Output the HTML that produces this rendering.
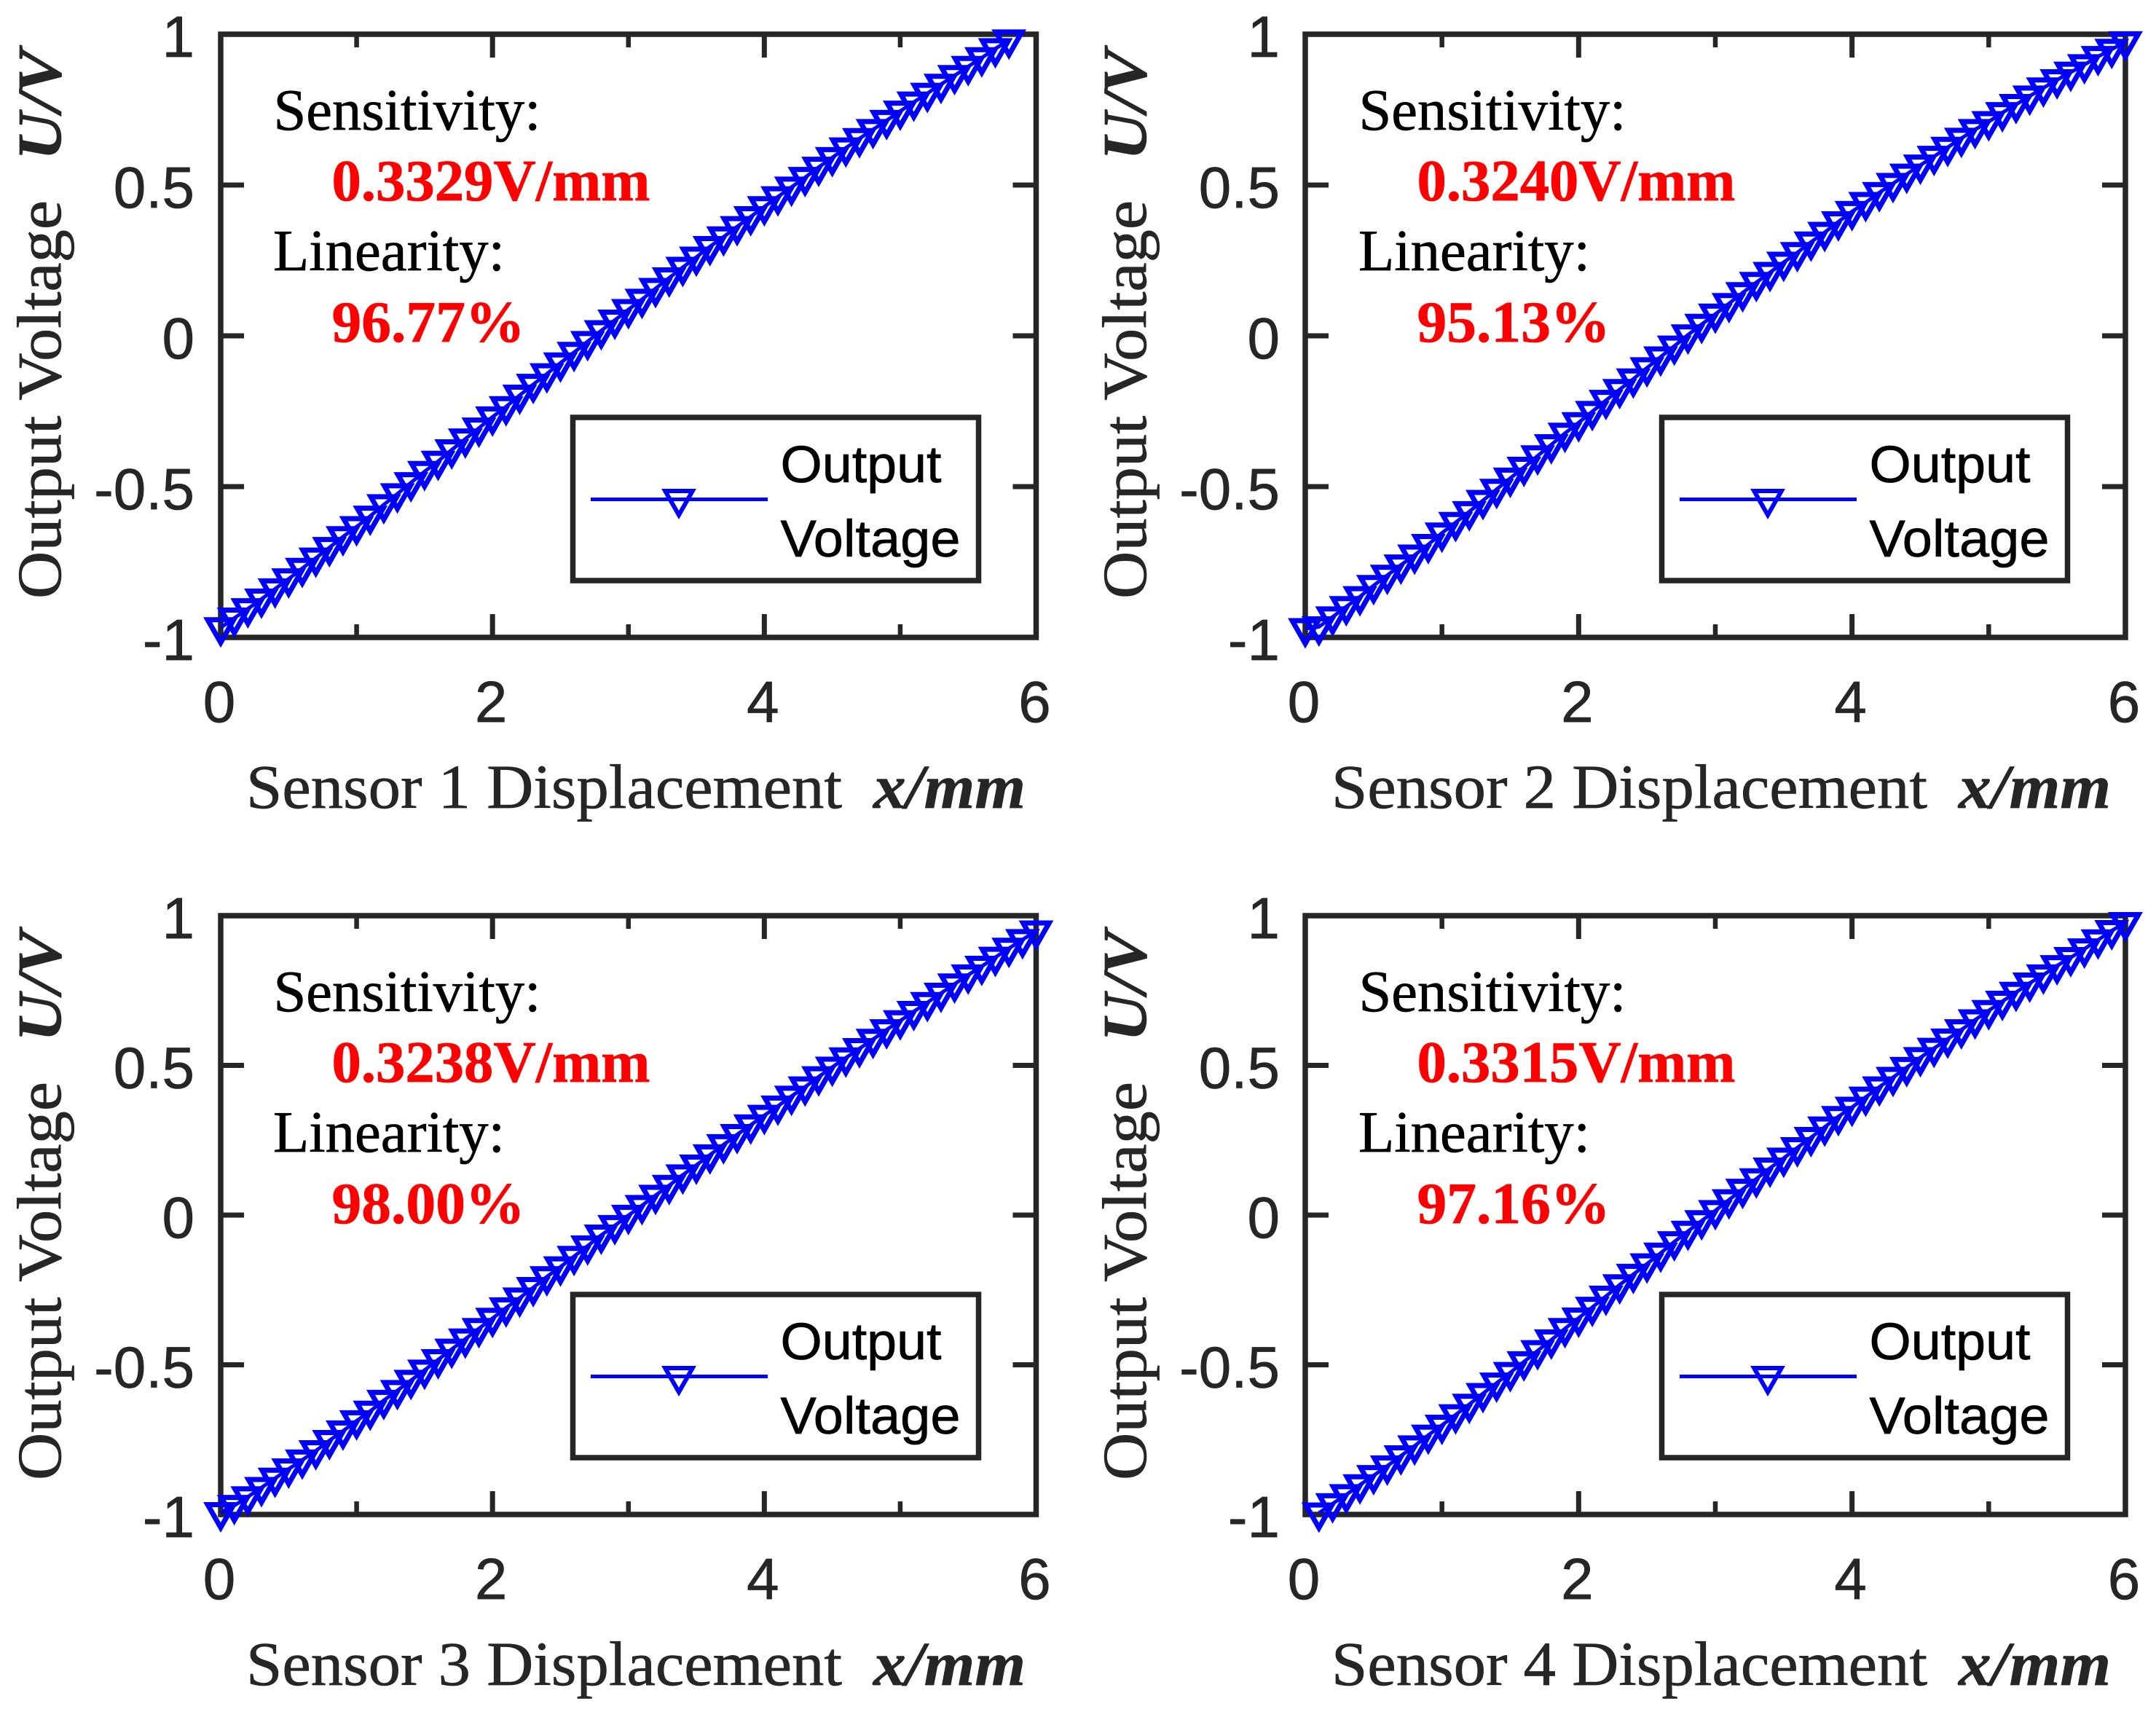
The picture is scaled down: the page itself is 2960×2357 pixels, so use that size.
<!DOCTYPE html>
<html lang="en">
<head>
<meta charset="utf-8">
<title>Sensor output voltage vs displacement</title>
<style>
html,body{margin:0;padding:0;background:#fff;}
svg{display:block;}
.ser{font-family:"Liberation Serif",serif;}
.san{font-family:"Liberation Sans",sans-serif;}
</style>
</head>
<body>
<svg id="chart" xmlns="http://www.w3.org/2000/svg" width="2960" height="2357" viewBox="0 0 2960 2357">
<rect x="0" y="0" width="2960" height="2357" fill="#ffffff"/>
</svg>
<script>
// ---- data ----
const displacement = [0,0.1,0.2,0.3,0.4,0.5,0.6,0.7,0.8,0.9,1,1.1,1.2,1.3,1.4,1.5,1.6,1.7,1.8,1.9,2,2.1,2.2,2.3,2.4,2.5,2.6,2.7,2.8,2.9,3,3.1,3.2,3.3,3.4,3.5,3.6,3.7,3.8,3.9,4,4.1,4.2,4.3,4.4,4.5,4.6,4.7,4.8,4.9,5,5.1,5.2,5.3,5.4,5.5,5.6,5.7,5.8,5.9,6];
const sensor1Voltage = [-0.968,-0.936,-0.905,-0.873,-0.839,-0.806,-0.771,-0.737,-0.702,-0.666,-0.633,-0.598,-0.560,-0.524,-0.487,-0.450,-0.416,-0.378,-0.342,-0.306,-0.269,-0.235,-0.197,-0.161,-0.126,-0.090,-0.055,-0.019,0.017,0.052,0.087,0.121,0.157,0.192,0.227,0.261,0.296,0.328,0.362,0.395,0.428,0.461,0.493,0.525,0.559,0.591,0.623,0.654,0.684,0.714,0.745,0.775,0.804,0.834,0.863,0.893,0.922,0.952,0.981];
const sensor2Voltage = [-0.971,-0.965,-0.932,-0.898,-0.865,-0.828,-0.794,-0.760,-0.727,-0.692,-0.654,-0.619,-0.583,-0.546,-0.509,-0.472,-0.436,-0.398,-0.361,-0.323,-0.288,-0.251,-0.214,-0.178,-0.143,-0.106,-0.070,-0.034,0.003,0.038,0.072,0.107,0.143,0.177,0.210,0.244,0.276,0.311,0.343,0.378,0.412,0.442,0.475,0.505,0.536,0.566,0.595,0.625,0.655,0.684,0.710,0.740,0.767,0.795,0.822,0.849,0.874,0.899,0.926,0.950,0.975];
const sensor3Voltage = [-0.994,-0.970,-0.941,-0.910,-0.879,-0.848,-0.818,-0.787,-0.753,-0.721,-0.687,-0.655,-0.619,-0.586,-0.552,-0.518,-0.483,-0.448,-0.414,-0.379,-0.345,-0.310,-0.277,-0.242,-0.206,-0.173,-0.138,-0.103,-0.067,-0.035,-0.001,0.032,0.066,0.099,0.134,0.167,0.201,0.235,0.269,0.301,0.333,0.364,0.397,0.428,0.462,0.494,0.525,0.556,0.587,0.619,0.649,0.680,0.710,0.741,0.772,0.802,0.831,0.861,0.891,0.920,0.949];
const sensor4Voltage = [-0.995,-0.964,-0.934,-0.901,-0.870,-0.838,-0.804,-0.771,-0.735,-0.702,-0.667,-0.632,-0.596,-0.561,-0.526,-0.490,-0.453,-0.417,-0.379,-0.344,-0.308,-0.271,-0.233,-0.198,-0.163,-0.127,-0.089,-0.054,-0.019,0.015,0.051,0.086,0.121,0.157,0.190,0.225,0.259,0.294,0.329,0.360,0.394,0.428,0.460,0.493,0.526,0.557,0.588,0.619,0.652,0.683,0.714,0.744,0.775,0.802,0.833,0.860,0.889,0.919,0.950,0.977];
const sensor1Start = 0;
const sensor2Start = 0;
const sensor3Start = 0;
const sensor4Start = 1;
const xMajorTicks = [0,2,4,6];
const xMinorTicks = [1,3,5];
const xTickLabels = ["0","2","4","6"];
const yMajorTicks = [-1,-0.5,0,0.5,1];
const yTickLabels = ["-1","-0.5","0","0.5","1"];
const sensorNumbers = ["1","2","3","4"];
const sensitivityValues = ["0.3329V/mm","0.3240V/mm","0.3238V/mm","0.3315V/mm"];
const linearityValues = ["96.77%","95.13%","98.00%","97.16%"];

// ---- layout ----
const voltageSeries = [sensor1Voltage,sensor2Voltage,sensor3Voltage,sensor4Voltage];
const seriesStarts = [sensor1Start,sensor2Start,sensor3Start,sensor4Start];
const frames = [
  {l:303,r:1422.5,t:47,b:875,tx:0,ty:0,lx:0,ly:0},
  {l:1792,r:2918,t:47,b:875,tx:1490,ty:0,lx:1495,ly:0},
  {l:303,r:1422.5,t:1257,b:2079,tx:0,ty:1210,lx:0,ly:1204},
  {l:1792,r:2918,t:1257,b:2079,tx:1490,ty:1210,lx:1495,ly:1204}
];
const INK = '#262626';
const BLUE = '#0000ff';
const svg = document.getElementById('chart');
const NS = 'http://www.w3.org/2000/svg';

function mk(tag, parent, attrs){
  const e = document.createElementNS(NS, tag);
  for (const k in attrs) e.setAttribute(k, attrs[k]);
  parent.appendChild(e);
  return e;
}
function txt(parent, str, cls, x, y, size, fill, opts){
  const o = opts || {};
  const a = {class:cls, x:x, y:y, 'font-size':size, fill:fill, stroke:fill, 'stroke-width':0.7};
  if (o.anchor) a['text-anchor'] = o.anchor;
  if (o.weight) a['font-weight'] = o.weight;
  if (o.style) a['font-style'] = o.style;
  if (o.len) { a.textLength = o.len; a.lengthAdjust = 'spacingAndGlyphs'; }
  if (o.transform) a.transform = o.transform;
  const e = mk('text', parent, a);
  e.textContent = str;
  return e;
}
function seriesMarkerPoints(cx, cy){
  return (cx-17.9)+','+(cy-11)+' '+(cx+17.9)+','+(cy-11)+' '+cx+','+(cy+20.4);
}
function legendMarkerPoints(cx, cy){
  return (cx-18.8)+','+(cy-11.5)+' '+(cx+18.8)+','+(cy-11.5)+' '+cx+','+(cy+21.5);
}

frames.forEach(function(f, p){
  const xScale = function(v){ return f.l + (v/6)*(f.r-f.l); };
  const yScale = function(v){ return f.b - ((v+1)/2)*(f.b-f.t); };

  const g = mk('g', svg, {});
  
  

  // plot frame
  const frame = mk('rect', g, {x:f.l, y:f.t, width:f.r-f.l, height:f.b-f.t, fill:'#ffffff', stroke:INK, 'stroke-width':7.5});
  
  

  // x ticks
  xMajorTicks.forEach(function(v, i){
    const x = xScale(v);
    const t1 = mk('line', g, {x1:x, x2:x, y1:f.b, y2:f.b-32, stroke:INK, 'stroke-width':7});
    
    
    const t2 = mk('line', g, {x1:x, x2:x, y1:f.t, y2:f.t+32, stroke:INK, 'stroke-width':7});
    
    
    const lb = txt(g, xTickLabels[i], 'san', x-2, f.b+116, 80, INK, {anchor:'middle'});
    
    
  });
  xMinorTicks.forEach(function(v){
    const x = xScale(v);
    const t1 = mk('line', g, {x1:x, x2:x, y1:f.b, y2:f.b-18, stroke:INK, 'stroke-width':6.5});
    
    
    const t2 = mk('line', g, {x1:x, x2:x, y1:f.t, y2:f.t+18, stroke:INK, 'stroke-width':6.5});
    
    
  });

  // y ticks
  yMajorTicks.forEach(function(v, i){
    const y = yScale(v);
    const t1 = mk('line', g, {x1:f.l, x2:f.l+32, y1:y, y2:y, stroke:INK, 'stroke-width':7});
    
    
    const t2 = mk('line', g, {x1:f.r, x2:f.r-32, y1:y, y2:y, stroke:INK, 'stroke-width':7});
    
    
    const lb = txt(g, yTickLabels[i], 'san', 267+f.tx, y+31, 80, INK, {anchor:'end'});
    
    
  });

  // axis titles
  const xt = txt(g, 'Sensor '+sensorNumbers[p]+' Displacement', 'ser', 338+f.tx, 1109+f.ty-(p>1?6:0), 86, INK, {len:818});
  
  
  const xu = txt(g, 'x/mm', 'ser', 1199+f.tx, 1109+f.ty-(p>1?6:0), 86, INK, {weight:'bold', style:'italic', len:209});
  
  

  const yb = 83 + f.tx;
  const yStart = 822 + f.ty;
  const yt = txt(g, 'Output Voltage', 'ser', yb, yStart, 86, INK, {len:547, transform:'rotate(-90 '+yb+' '+yStart+')'});
  
  
  const uStart = 220 + f.ty;
  const yu = txt(g, 'U/V', 'ser', yb, uStart, 86, INK, {weight:'bold', style:'italic', len:152, transform:'rotate(-90 '+yb+' '+uStart+')'});
  
  

  // annotations
  const a1 = txt(g, 'Sensitivity:', 'ser', 375.5+f.tx, 178+f.ty, 80, '#000000', {len:367});
  
  
  const a2 = txt(g, sensitivityValues[p], 'ser', 455.5+f.tx, 275+f.ty, 80, '#ff0000', {weight:'bold', len:437});
  
  
  const a3 = txt(g, 'Linearity:', 'ser', 375+f.tx, 371+f.ty, 80, '#000000', {len:318});
  
  
  const a4 = txt(g, linearityValues[p], 'ser', 455.5+f.tx, 469+f.ty, 80, '#ff0000', {weight:'bold', len:265});
  
  

  // series
  const values = voltageSeries[p];
  const start = seriesStarts[p];
  const pts = values.map(function(v, i){ return xScale(displacement[i+start])+','+yScale(v); }).join(' ');
  const line = mk('polyline', g, {points:pts, fill:'none', stroke:BLUE, 'stroke-width':5});
  
  
  values.forEach(function(v, i){
    const m = mk('polygon', g, {points:seriesMarkerPoints(xScale(displacement[i+start]), yScale(v)), fill:'none', stroke:BLUE, 'stroke-width':7, 'stroke-miterlimit':10});
    
    
  });

  // legend
  const lg = mk('g', g, {});
  
  
  const box = mk('rect', lg, {x:786.5+f.lx, y:573+f.ly, width:557, height:224, fill:'#ffffff', stroke:INK, 'stroke-width':7.5});
  
  
  const ll = mk('line', lg, {x1:811+f.lx, x2:1054+f.lx, y1:685.5+f.ly, y2:685.5+f.ly, stroke:BLUE, 'stroke-width':5});
  
  
  const lm = mk('polygon', lg, {points:legendMarkerPoints(932+f.lx, 685.5+f.ly), fill:'none', stroke:BLUE, 'stroke-width':6, 'stroke-miterlimit':10});
  
  
  const l1 = txt(lg, 'Output', 'san', 1071.5+f.lx, 662+f.ly, 71, '#000000', {len:221});
  
  
  const l2 = txt(lg, 'Voltage', 'san', 1071.5+f.lx, 764+f.ly, 71, '#000000', {len:247});
  
  
});
</script>
</body>
</html>
